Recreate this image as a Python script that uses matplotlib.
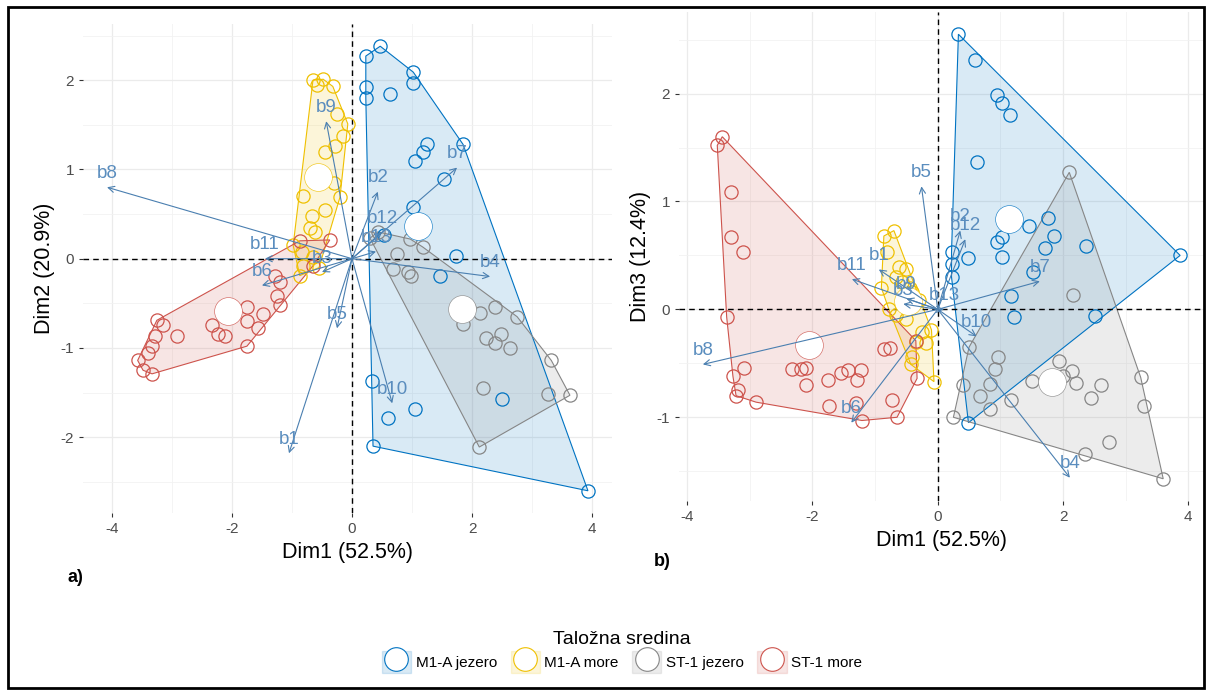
import numpy as np
import matplotlib.pyplot as plt
from matplotlib.patches import Polygon, Patch, Rectangle
from matplotlib.lines import Line2D

plt.rcParams['font.family'] = ['Liberation Sans', 'DejaVu Sans']
plt.rcParams['axes.unicode_minus'] = False

# groups and colours (jco palette)
groups = ['M1-A jezero', 'M1-A more', 'ST-1 jezero', 'ST-1 more']
colors = ['#0073C2', '#EFC000', '#868686', '#CD534C']
var_color = '#4A7FB0'

var_names = ['b1', 'b2', 'b3', 'b4', 'b5', 'b6', 'b7', 'b8', 'b9', 'b10', 'b11', 'b12', 'b13']

# ---- panel a: Dim1 vs Dim2 ----
a_m1_jezero = [(0.47, 2.38), (0.23, 2.27), (1.02, 2.09), (1.02, 1.97), (0.23, 1.92), (0.23, 1.80),
               (0.63, 1.84), (1.85, 1.28), (1.25, 1.28), (1.18, 1.19), (1.05, 1.09), (1.53, 0.89),
               (1.02, 0.58), (0.53, 0.26), (1.73, 0.03), (1.47, -0.19), (0.33, -1.37), (0.60, -1.78),
               (1.05, -1.68), (0.35, -2.10), (3.93, -2.60), (2.50, -1.57)]
a_m1_more = [(-0.65, 2.00), (-0.48, 2.01), (-0.32, 1.93), (-0.58, 1.95), (-0.25, 1.62), (-0.07, 1.51),
             (-0.15, 1.37), (-0.45, 1.20), (-0.28, 1.26), (-0.20, 0.69), (-0.82, 0.70), (-0.67, 0.48),
             (-0.70, 0.34), (-0.62, 0.30), (-0.98, 0.15), (-0.83, 0.08), (-0.65, 0.02), (-0.82, -0.08),
             (-0.87, -0.19), (-0.45, 0.55), (-0.30, 0.85), (-0.55, -0.10)]
a_st_jezero = [(0.43, 0.30), (0.30, 0.23), (0.97, 0.22), (1.18, 0.13), (0.68, -0.12), (0.93, -0.15),
               (0.98, -0.19), (0.75, 0.05), (2.13, -0.61), (2.38, -0.54), (2.75, -0.65), (1.85, -0.73),
               (2.23, -0.89), (2.48, -0.84), (2.38, -0.95), (2.63, -1.00), (3.32, -1.14), (3.27, -1.52),
               (3.63, -1.53), (2.18, -1.45), (2.12, -2.11), (1.95, -0.55)]
a_st_more = [(-0.37, 0.21), (-0.87, 0.20), (-0.65, -0.08), (-1.28, -0.19), (-1.20, -0.26), (-1.25, -0.42),
             (-1.20, -0.52), (-1.48, -0.62), (-1.75, -0.54), (-1.75, -0.70), (-1.57, -0.78), (-2.33, -0.74),
             (-2.23, -0.84), (-2.12, -0.87), (-1.75, -0.98), (-2.92, -0.87), (-3.25, -0.69), (-3.15, -0.74),
             (-3.28, -0.87), (-3.33, -0.98), (-3.40, -1.06), (-3.57, -1.14), (-3.48, -1.25), (-3.33, -1.29)]
a_means = [(1.10, 0.37), (-0.57, 0.91), (1.83, -0.56), (-2.07, -0.59)]
a_vars = [(-1.05, -2.18), (0.43, 0.75), (-0.50, -0.15), (2.30, -0.20), (-0.25, -0.78), (-1.50, -0.30),
          (1.75, 1.02), (-4.08, 0.80), (-0.43, 1.54), (0.67, -1.62), (-1.45, 0.00), (0.50, 0.30),
          (0.40, 0.08)]

# ---- panel b: Dim1 vs Dim3 ----
b_m1_jezero = [(0.33, 2.55), (0.60, 2.31), (0.95, 1.99), (1.03, 1.91), (1.16, 1.80), (0.63, 1.37),
               (1.46, 0.77), (1.02, 0.67), (0.94, 0.62), (1.02, 0.49), (0.49, 0.48), (0.22, 0.53),
               (0.22, 0.42), (0.22, 0.30), (1.76, 0.85), (1.86, 0.68), (1.71, 0.57), (1.52, 0.35),
               (2.37, 0.59), (3.87, 0.50), (1.17, 0.12), (1.22, -0.07), (2.51, -0.06), (0.49, -1.05)]
b_m1_more = [(-0.70, 0.73), (-0.86, 0.68), (-0.81, 0.53), (-0.62, 0.39), (-0.51, 0.37), (-0.67, 0.30),
             (-0.57, 0.25), (-0.45, 0.20), (-0.41, 0.16), (-0.30, 0.09), (-0.78, 0.00), (-0.67, -0.05),
             (-0.51, -0.09), (-0.25, -0.21), (-0.19, -0.31), (-0.35, -0.30), (-0.41, -0.44), (-0.43, -0.51),
             (-0.10, -0.19), (-0.06, -0.67), (-0.90, 0.20)]
b_st_jezero = [(2.10, 1.27), (2.16, 0.13), (0.25, -1.00), (0.41, -0.70), (0.67, -0.80), (0.84, -0.92),
               (0.83, -0.69), (0.92, -0.55), (0.97, -0.44), (1.17, -0.84), (1.51, -0.66), (1.94, -0.48),
               (2.00, -0.62), (2.14, -0.57), (2.21, -0.68), (2.44, -0.82), (2.60, -0.70), (3.24, -0.63),
               (3.29, -0.90), (2.73, -1.23), (2.35, -1.34), (3.60, -1.57), (0.50, -0.35)]
b_st_more = [(-3.44, 1.60), (-3.52, 1.52), (-3.30, 1.09), (-3.30, 0.67), (-3.11, 0.53), (-3.37, -0.07),
             (-3.10, -0.54), (-3.27, -0.62), (-3.19, -0.75), (-3.22, -0.80), (-2.90, -0.86), (-2.32, -0.55),
             (-2.19, -0.55), (-2.10, -0.54), (-2.10, -0.70), (-1.75, -0.65), (-1.54, -0.59), (-1.44, -0.56),
             (-1.22, -0.56), (-1.29, -0.65), (-1.73, -0.90), (-1.30, -0.87), (-1.21, -1.03), (-0.65, -1.00),
             (-0.73, -0.84), (-0.86, -0.37), (-0.76, -0.36), (-0.35, -0.29), (-0.33, -0.64)]
b_means = [(1.13, 0.84), (-0.48, 0.08), (1.83, -0.67), (-2.06, -0.33)]
b_vars = [(-0.94, 0.37), (0.36, 0.73), (-0.55, 0.05), (2.11, -1.56), (-0.26, 1.14), (-1.38, -1.05),
          (1.63, 0.26), (-3.75, -0.51), (-0.50, 0.10), (0.62, -0.25), (-1.37, 0.28), (0.44, 0.65),
          (0.10, 0.00)]


def hull(points):
    # monotone chain convex hull
    pts = sorted(set(points))
    def cross(o, a, b):
        return (a[0] - o[0]) * (b[1] - o[1]) - (a[1] - o[1]) * (b[0] - o[0])
    lower, upper = [], []
    for p in pts:
        while len(lower) >= 2 and cross(lower[-2], lower[-1], p) <= 0:
            lower.pop()
        lower.append(p)
    for p in reversed(pts):
        while len(upper) >= 2 and cross(upper[-2], upper[-1], p) <= 0:
            upper.pop()
        upper.append(p)
    return lower[:-1] + upper[:-1]


def draw_panel(ax, group_pts, means, var_tips, xlabel, ylabel):
    # hulls
    for pts, col in zip(group_pts, colors):
        ax.add_patch(Polygon(hull(pts), closed=True, facecolor=col, alpha=0.15, edgecolor='none', zorder=1))
        ax.add_patch(Polygon(hull(pts), closed=True, facecolor='none', edgecolor=col, lw=0.8, zorder=2))
    # points
    for pts, col in zip(group_pts, colors):
        xs = [p[0] for p in pts]
        ys = [p[1] for p in pts]
        ax.plot(xs, ys, 'o', ms=9.5, mfc='none', mec=col, mew=0.9, zorder=3)
    for (mx, my), col in zip(means, colors):
        ax.plot(mx, my, 'o', ms=20, mfc='white', mec=col, mew=0.4, zorder=4)

    ax.axhline(0, color='black', ls=(0, (4, 3)), lw=1, zorder=2.5)
    ax.axvline(0, color='black', ls=(0, (4, 3)), lw=1, zorder=2.5)

    # variable arrows
    for name, (vx, vy) in zip(var_names, var_tips):
        ax.annotate('', xy=(vx, vy), xytext=(0, 0),
                    arrowprops=dict(arrowstyle='->', color=var_color, lw=0.8,
                                    shrinkA=0, shrinkB=0, mutation_scale=11), zorder=5)
        ax.annotate(name, xy=(vx, vy), xytext=(0, 10), textcoords='offset points',
                    ha='center', va='center', color='#5A8DBE', fontsize=13.5, zorder=6)

    # limits with 5% expansion
    allx = [p[0] for g in group_pts for p in g] + [v[0] for v in var_tips]
    ally = [p[1] for g in group_pts for p in g] + [v[1] for v in var_tips]
    dx = 0.05 * (max(allx) - min(allx))
    dy = 0.05 * (max(ally) - min(ally))
    ax.set_xlim(min(allx) - dx, max(allx) + dx)
    ax.set_ylim(min(ally) - dy, max(ally) + dy)

    ax.set_xticks([-4, -2, 0, 2, 4])
    ax.set_xticks([-3, -1, 1, 3], minor=True)
    yt = [t for t in [-2, -1, 0, 1, 2] if min(ally) - dy <= t <= max(ally) + dy]
    ax.set_yticks(yt)
    ax.set_yticks([t + 0.5 for t in range(-3, 3) if min(ally) - dy <= t + 0.5 <= max(ally) + dy], minor=True)
    ax.grid(which='major', color='#EBEBEB', lw=0.9)
    ax.grid(which='minor', color='#F2F2F2', lw=0.6)
    ax.set_axisbelow(True)
    ax.tick_params(which='major', length=3, color='#333333', labelsize=11, labelcolor='#4D4D4D')
    ax.tick_params(which='minor', length=0)
    for s in ax.spines.values():
        s.set_visible(False)
    ax.set_xlabel(xlabel, fontsize=15.5, labelpad=4)
    ax.set_ylabel(ylabel, fontsize=15.5, labelpad=4)


W, H = 1212, 695
fig = plt.figure(figsize=(W / 100, H / 100), dpi=100)

ax1 = fig.add_axes([83 / W, 1 - 513 / H, 529 / W, 489 / H])
draw_panel(ax1, [a_m1_jezero, a_m1_more, a_st_jezero, a_st_more], a_means, a_vars,
           'Dim1 (52.5%)', 'Dim2 (20.9%)')

ax2 = fig.add_axes([679 / W, 1 - 501 / H, 525 / W, 489 / H])
draw_panel(ax2, [b_m1_jezero, b_m1_more, b_st_jezero, b_st_more], b_means, b_vars,
           'Dim1 (52.5%)', 'Dim3 (12.4%)')

fig.text(75 / W, 1 - 577 / H, 'a)', fontsize=13, fontweight='bold', ha='center', va='center')
fig.text(662 / W, 1 - 562 / H, 'b)', fontsize=13, fontweight='bold', ha='center', va='center')

# legend
handles = []
for col in colors:
    handles.append((Patch(facecolor=col, alpha=0.15, edgecolor=col, lw=1),
                    Line2D([], [], marker='o', ls='none', ms=17, mfc='white', mec=col, mew=0.8)))
leg = fig.legend(handles, groups, ncol=4, loc='center', bbox_to_anchor=(622 / W, 1 - 652 / H),
                 frameon=False, fontsize=11, title='Taložna sredina', title_fontsize=14,
                 handlelength=1.9, handleheight=1.9, handletextpad=0.3, columnspacing=0.9,
                 borderpad=0.1, labelspacing=0.2)

# figure border
fig.add_artist(Rectangle((8 / W, 7 / H), 1196 / W, 681 / H, transform=fig.transFigure,
                         fill=False, edgecolor='black', lw=2))

fig.savefig('out.png', dpi=100)
